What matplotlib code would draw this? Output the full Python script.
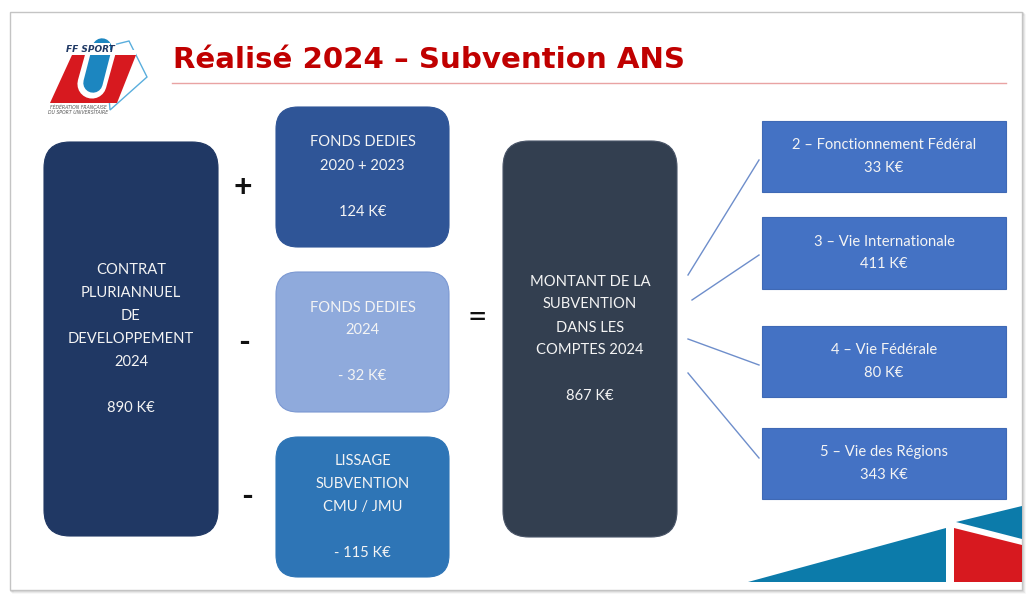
import matplotlib
matplotlib.use("Agg")
import matplotlib.pyplot as plt
from matplotlib.patches import FancyBboxPatch, Rectangle, Polygon

# ---------------- data ----------------
title = "Réalisé 2024 – Subvention ANS"
contract_label = ["CONTRAT", "PLURIANNUEL", "DE", "DEVELOPPEMENT", "2024"]
contract_value = 890
adjust_labels = [["FONDS DEDIES", "2020 + 2023"],
                 ["FONDS DEDIES", "2024"],
                 ["LISSAGE", "SUBVENTION", "CMU / JMU"]]
adjust_values = [124, -32, -115]
adjust_signs = ["+", "-", "-"]
total_label = ["MONTANT DE LA", "SUBVENTION", "DANS LES", "COMPTES 2024"]
total_value = 867
split_labels = ["2 – Fonctionnement Fédéral", "3 – Vie Internationale",
                "4 – Vie Fédérale", "5 – Vie des Régions"]
split_values = [33, 411, 80, 343]

def fmt(v):
    return f"- {abs(v)} K€" if v < 0 else f"{v} K€"

# ---------------- figure ----------------
W, H = 1028, 595
fig = plt.figure(figsize=(W / 100, H / 100), dpi=100)
ax = fig.add_axes([0, 0, 1, 1])
ax.set_xlim(0, W)
ax.set_ylim(H, 0)
ax.set_aspect("auto")
ax.axis("off")

FONT = "Lato"
TXT = "#F4F4F4"
FS = 10.6
LS = 23  # line spacing in px

# slide frame with soft shadow
for i, a in enumerate([0.10, 0.07, 0.04]):
    ax.add_patch(Rectangle((10 + i + 1, 12 + i + 1), 1012, 578, facecolor="none",
                           edgecolor=(0, 0, 0, a), lw=1.2, zorder=0))
ax.add_patch(Rectangle((10, 12), 1012, 578, facecolor="white", edgecolor="#C4C4C4",
                       lw=1.0, zorder=0.5))

# title
ax.text(173, 68, title, fontsize=21.1, fontweight="bold", color="#C00000",
        family="DejaVu Sans", ha="left", va="baseline", zorder=3)
ax.plot([172, 1006], [83, 83], color="#E9A3A3", lw=1.0, zorder=3)

# logo
ax.add_patch(Polygon([(105, 47), (129, 41), (147, 77), (110, 110)], closed=True,
                     facecolor="none", edgecolor="#5AAEDD", lw=1.0, zorder=2))
ax.add_patch(Polygon([(72, 55), (136, 55), (117, 103), (50, 103)], closed=True,
                     facecolor="#D7191F", edgecolor="none", zorder=3))
ax.plot([102, 92], [48, 84], color="white", lw=21, solid_capstyle="round", zorder=4)
ax.plot([102, 93], [48, 83], color="#1C86C0", lw=14, solid_capstyle="round", zorder=5)
ax.add_patch(Rectangle((70, 43), 40, 12, facecolor="white", edgecolor="none", zorder=5.5))
ax.add_patch(Rectangle((110, 50), 26, 5, facecolor="white", edgecolor="none", zorder=5.5))
ax.text(90, 49, "FF SPORT", fontsize=6.5, fontweight="bold", style="italic",
        color="#1F3864", family="DejaVu Sans Condensed", ha="center", va="center", zorder=6)
ax.text(50, 107, "FÉDÉRATION FRANÇAISE", fontsize=3.3, style="italic", color="#555555",
        family="DejaVu Sans", ha="left", va="center", zorder=6)
ax.text(48, 112, "DU SPORT UNIVERSITAIRE", fontsize=3.3, style="italic", color="#555555",
        family="DejaVu Sans", ha="left", va="center", zorder=6)


def box(x0, y0, x1, y1, color, r, edge=None):
    ax.add_patch(FancyBboxPatch((x0, y0), x1 - x0, y1 - y0,
                                boxstyle=f"round,pad=0,rounding_size={r}",
                                facecolor=color, edgecolor=edge or color, lw=0.8,
                                zorder=2))


def lines(cx, cy, rows):
    n = len(rows)
    for i, t in enumerate(rows):
        if t:
            ax.text(cx, cy + (i - (n - 1) / 2) * LS, t, fontsize=FS, color=TXT,
                    family=FONT, ha="center", va="center", zorder=4)


# left box
box(44, 142, 218, 536, "#203864", 26)
lines(131, 339, contract_label + ["", fmt(contract_value)])

# adjustment boxes
adj_geom = [(276, 107, 449, 247, "#2F5597", "#2F5597"),
            (276, 272, 449, 412, "#8FAADC", "#7B98D2"),
            (276, 437, 449, 577, "#2E75B6", "#2E75B6")]
sign_pos = [(243, 187), (244, 342), (247, 496)]
for (x0, y0, x1, y1, c, e), lab, v, s, (sx, sy) in zip(adj_geom, adjust_labels,
                                                       adjust_values, adjust_signs, sign_pos):
    box(x0, y0, x1, y1, c, 22, e)
    lines((x0 + x1) / 2, (y0 + y1) / 2, lab + ["", fmt(v)])
    ax.text(sx, sy, s, fontsize=23, color="#111111", fontweight="bold",
            family=FONT, ha="center", va="center", zorder=4)

ax.text(477, 318, "=", fontsize=24, color="#111111", family=FONT,
        ha="center", va="center", zorder=4)

# total box
box(503, 141, 677, 537, "#333F50", 26, "#4A5568")
lines(590, 339, total_label + ["", fmt(total_value)])

# split boxes & connectors
split_geom = [(762, 121, 1006, 192), (762, 217, 1006, 289),
              (762, 326, 1006, 397), (762, 428, 1006, 499)]
connectors = [((688, 275), (759, 160)), ((692, 300), (759, 255)),
              ((688, 339), (759, 365)), ((688, 373), (759, 458))]
for (x0, y0, x1, y1), lab, v, ((ax0, ay0), (ax1, ay1)) in zip(split_geom, split_labels,
                                                             split_values, connectors):
    ax.add_patch(Rectangle((x0, y0), x1 - x0, y1 - y0, facecolor="#4472C4",
                           edgecolor="#3F69B5", lw=0.8, zorder=2))
    lines((x0 + x1) / 2, (y0 + y1) / 2, [lab, fmt(v)])
    ax.plot([ax0, ax1], [ay0, ay1], color="#6E8ECB", lw=1.0, zorder=2)

# bottom-right decoration
ax.add_patch(Polygon([(748, 582), (946, 528), (946, 582)], closed=True,
                     facecolor="#0C7BAA", edgecolor="none", zorder=2))
ax.add_patch(Polygon([(956, 522), (1022, 506), (1022, 539)], closed=True,
                     facecolor="#0C7BAA", edgecolor="none", zorder=2))
ax.add_patch(Polygon([(954, 528), (1022, 545), (1022, 582), (954, 582)], closed=True,
                     facecolor="#D7191F", edgecolor="none", zorder=2))

fig.savefig("out.png", dpi=100, facecolor="white")
